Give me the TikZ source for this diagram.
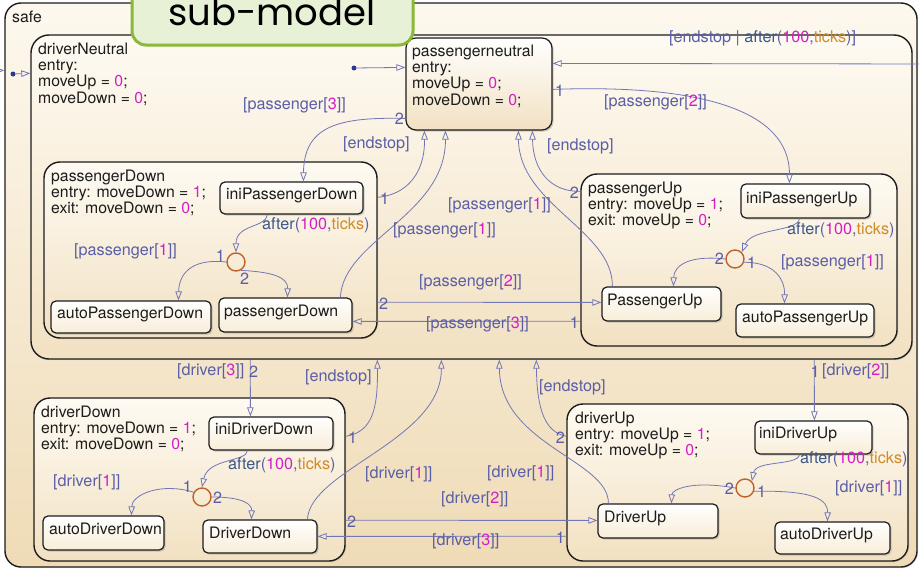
\documentclass[tikz,border=0pt]{standalone}
\usepackage{fontspec}
\setmainfont{TeX Gyre Heros}
\newfontfamily\bannerfont{Poppins}
\usetikzlibrary{arrows.meta,calc,fit,shadows}

\definecolor{trline}{HTML}{7276B6}
\definecolor{trtext}{HTML}{5A5EA6}
\definecolor{numcol}{HTML}{D41EC6}
\definecolor{tickcol}{HTML}{D08A28}
\definecolor{kwcol}{HTML}{3B5689}
\definecolor{junccol}{HTML}{C0622A}
\definecolor{dotcol}{HTML}{2E3A8E}
\definecolor{inkcol}{HTML}{1C1C1C}
\definecolor{safetop}{HTML}{FDF8EE}
\definecolor{safebot}{HTML}{EFDBB6}
\definecolor{suptop}{HTML}{FEFAF2}
\definecolor{supbot}{HTML}{F2E1C2}
\definecolor{leafbot}{HTML}{F8EDD8}
\definecolor{bannerfill}{HTML}{E7F1D6}
\definecolor{bannerdraw}{HTML}{8CB83A}

\newcommand{\magnum}[1]{\textcolor{numcol}{#1}}
\newcommand{\aftertick}{\textcolor{kwcol}{after}(\magnum{100},\textcolor{tickcol}{ticks})}
\newcommand{\statefont}{\fontsize{15.8}{16.3}\selectfont}
\newcommand{\labelfont}{\fontsize{16.2}{19}\selectfont}

\tikzset{
  superstate/.style={draw=inkcol, line width=1.4pt, rounded corners=16pt, inner sep=0pt,
    top color=suptop, bottom color=supbot,
    drop shadow={shadow xshift=1.2pt, shadow yshift=-1.2pt, opacity=0.2}},
  leafstate/.style={draw=inkcol, line width=1.2pt, rounded corners=5pt, inner sep=0pt,
    top color=white, bottom color=leafbot,
    drop shadow={shadow xshift=1.6pt, shadow yshift=-1.6pt, opacity=0.35}},
  statetext/.style={anchor=north west, align=left, inner sep=0pt, font=\statefont, text=inkcol},
  leaftext/.style={anchor=base west, inner sep=0pt, font=\statefont, text=inkcol},
  trans/.style={draw=trline, line width=0.8pt, -{Triangle[open, length=9pt, width=6.5pt, line width=0.8pt]}},
  trlabel/.style={anchor=base west, inner sep=0pt, text=trtext, font=\labelfont},
  prio/.style={inner sep=0pt, text=trtext, font=\labelfont},
  junction/.style={circle, draw=junccol, line width=1.4pt, minimum size=18pt, inner sep=0pt},
  defdot/.style={circle, fill=dotcol, minimum size=5pt, inner sep=0pt},
}

\begin{document}
\begin{tikzpicture}[x=1pt, y=-1pt]
\useasboundingbox (0,0) rectangle (919,570);
\clip (0,0) rectangle (919,570);

% ---------------- outer chart "safe" ----------------
\node[superstate, rounded corners=16pt, top color=safetop, bottom color=safebot,
      fit={(5,3) (917,567)}] (safe) {};
\node[anchor=west, inner sep=0pt, font=\statefont, text=inkcol] (safeT) at (12,17) {safe};
\coordinate (safein) at (-14,71);
\draw[trans] (safein) -- ($(safe.north west)+(0,68)$);

% ---------------- driverNeutral ----------------
\node[superstate, rounded corners=18pt, fit={(31,35) (912,359)}] (dn) {};
\node[statetext] (dnT) at (38,42.5) {driverNeutral\\entry:\\moveUp = \magnum{0};\\moveDown = \magnum{0};};
\node[defdot] (dnDot) at (13,74) {};
\draw[trans] (dnDot) -- ($(dn.north west)+(0,39)$);

% ---------------- passengerneutral ----------------
\node[leafstate, rounded corners=10pt, fit={(406,38) (552,130)}, bottom color=supbot] (pn) {};
\node[statetext] (pnT) at (412,44.5) {passengerneutral\\entry:\\moveUp = \magnum{0};\\moveDown = \magnum{0};};
\node[defdot] (pnDot) at (354,68) {};
\draw[trans] (pnDot) -- ($(pn.north west)+(0,30)$);
\coordinate (pnin) at (935,64);
\draw[trans] (pnin) -- ($(pn.north east)+(0,26)$);
\node[trlabel] (lbEndAfter) at (669,42) {[endstop | \aftertick]};

% ---------------- passengerDown ----------------
\node[superstate, fit={(44,162) (377,338)}] (pdS) {};
\node[statetext] (pdST) at (51,169.5) {passengerDown\\entry: moveDown = \magnum{1};\\exit: moveDown = \magnum{0};};
\node[leafstate, fit={(220,182) (363,214)}] (ipd) {};
\node[leaftext] (ipdT) at (226,199.5) {iniPassengerDown};
\node[leafstate, fit={(51,301) (211,333)}] (apd) {};
\node[leaftext] (apdT) at (57,318.5) {autoPassengerDown};
\node[leafstate, fit={(219,298) (352,332)}] (pd) {};
\node[leaftext] (pdT) at (224,316.5) {passengerDown};
\node[junction] (jpd) at (236,262) {};

% ---------------- passengerUp ----------------
\node[superstate, fit={(581,174) (897,346)}] (puS) {};
\node[statetext] (puST) at (588,181.5) {passengerUp\\entry: moveUp = \magnum{1};\\exit: moveUp = \magnum{0};};
\node[leafstate, fit={(741,184) (870,218)}] (ipu) {};
\node[leaftext] (ipuT) at (746,203.5) {iniPassengerUp};
\node[leafstate, fit={(602,287) (721,321)}] (pup) {};
\node[leaftext] (pupT) at (607,305.5) {PassengerUp};
\node[leafstate, fit={(736,304) (874,337)}] (apu) {};
\node[leaftext] (apuT) at (742,322.5) {autoPassengerUp};
\node[junction] (jpu) at (735,259) {};

% ---------------- driverDown ----------------
\node[superstate, fit={(34,398) (345,561)}] (ddS) {};
\node[statetext] (ddST) at (41,405.5) {driverDown\\entry: moveDown = \magnum{1};\\exit: moveDown = \magnum{0};};
\node[leafstate, fit={(209,417) (333,450)}] (idd) {};
\node[leaftext] (iddT) at (215,434.5) {iniDriverDown};
\node[leafstate, fit={(43,516) (164,550)}] (add) {};
\node[leaftext] (addT) at (49,534.5) {autoDriverDown};
\node[leafstate, fit={(203,520) (317,553)}] (ddr) {};
\node[leaftext] (ddrT) at (209,538.5) {DriverDown};
\node[junction] (jdd) at (202,497) {};

% ---------------- driverUp ----------------
\node[superstate, fit={(567,404) (908,561)}] (duS) {};
\node[statetext] (duST) at (575,411.5) {driverUp\\entry: moveUp = \magnum{1};\\exit: moveUp = \magnum{0};};
\node[leafstate, fit={(755,421) (872,454)}] (idu) {};
\node[leaftext] (iduT) at (759,438.5) {iniDriverUp};
\node[leafstate, fit={(598,504) (718,538)}] (dup) {};
\node[leaftext] (dupT) at (604,522.5) {DriverUp};
\node[leafstate, fit={(775,522) (890,554)}] (adu) {};
\node[leaftext] (aduT) at (780,539.5) {autoDriverUp};
\node[junction] (jdu) at (745,488) {};

% ======== transitions: passenger side ========
% neutral -> iniPassengerDown
\draw[trans] ($(pn.north west)+(0,81)$) .. controls (340,117) and (304,125) .. ($(ipd.north west)+(84,0)$);
\node[prio, anchor=base east] (p1) at (404,124) {2};
\node[trlabel] (l1) at (243,109) {[passenger[\magnum{3}]]};
% passengerDown -> neutral
\draw[trans] ($(pdS.north east)+(0,36)$) .. controls (405,195) and (425,175) .. ($(pn.south west)+(19,0)$);
\node[prio, anchor=base west] (p2) at (380,204) {1};
\node[trlabel] (l2) at (343,148) {[endstop]};
% passengerDown leaf -> neutral
\draw[trans] ($(pd.north west)+(122,0)$) .. controls (343,240) and (446,215) .. ($(pn.south west)+(40,0)$);
\node[trlabel] (l3) at (393,234) {[passenger[\magnum{1}]]};
% passengerDown -> PassengerUp
\draw[trans] ($(pdS.north east)+(0,141)$) -- ($(pup.north west)+(0,16)$);
\node[prio, anchor=base west] (p4) at (379,309) {2};
\node[trlabel] (l4) at (419,286) {[passenger[\magnum{2}]]};
% passengerUp -> passengerDown leaf
\draw[trans] ($(puS.north west)+(0,148)$) -- ($(pd.north east)+(0,24)$);
\node[prio, anchor=base east] (p5) at (579,328) {1};
\node[trlabel] (l5) at (426,328) {[passenger[\magnum{3}]]};
% neutral -> iniPassengerUp
\draw[trans] ($(pn.north east)+(0,52)$) .. controls (700,84) and (790,110) .. ($(ipu.north west)+(49,0)$);
\node[prio, anchor=base west] (p6) at (555,96) {1};
\node[trlabel] (l6) at (604,106) {[passenger[\magnum{2}]]};
% passengerUp -> neutral
\draw[trans] ($(puS.north west)+(0,18)$) .. controls (550,192) and (533,170) .. ($(pn.south west)+(127,0)$);
\node[prio, anchor=base east] (p7) at (579,198) {2};
\node[trlabel] (l7) at (547,150) {[endstop]};
% PassengerUp leaf -> neutral
\draw[trans] ($(pup.north west)+(11,0)$) .. controls (613,230) and (519,205) .. ($(pn.south west)+(113,0)$);
\node[trlabel] (l8) at (448,209) {[passenger[\magnum{1}]]};

% inside passengerDown
\draw[trans] ($(ipd.south west)+(48,0)$) .. controls (266,228) and (236,224) .. (jpd.north);
\node[trlabel] (l9) at (262,229) {\aftertick};
\draw[trans] (jpd.west) .. controls (190,258) and (179,275) .. ($(apd.north west)+(128,0)$);
\node[prio, anchor=base east] (p10) at (225,261) {1};
\node[trlabel] (l10) at (74,255) {[passenger[\magnum{1}]]};
\draw[trans] (jpd.-60) .. controls (275,272) and (288,278) .. ($(pd.north west)+(69,0)$);
\node[prio, anchor=base west] (p11) at (240,284) {2};

% inside passengerUp
\draw[trans] ($(ipu.south west)+(59,0)$) .. controls (798,232) and (752,228) .. (jpu.north east);
\node[trlabel] (l12) at (787,234) {\aftertick};
\draw[trans] (jpu.west) .. controls (690,255) and (674,265) .. ($(pup.north west)+(72,0)$);
\node[prio, anchor=base east] (p13) at (724,264) {2};
\draw[trans] (jpu.-20) .. controls (775,262) and (785,280) .. ($(apu.north west)+(49,0)$);
\node[prio, anchor=base west] (p14) at (747,268) {1};
\node[trlabel] (l14) at (781,266) {[passenger[\magnum{1}]]};

% ======== transitions: driver side ========
% neutral -> iniDriverDown
\draw[trans] ($(dn.south west)+(220,0)$) -- ($(idd.north west)+(42,0)$);
\node[trlabel] (l15) at (177,375) {[driver[\magnum{3}]]};
\node[prio, anchor=base west] (p15) at (249,377) {2};
% driverDown -> neutral
\draw[trans] ($(ddS.north east)+(0,39)$) .. controls (372,432) and (378,410) .. ($(dn.south west)+(347,0)$);
\node[prio, anchor=base west] (p16) at (348,443) {1};
\node[trlabel] (l16) at (305,381) {[endstop]};
% DriverDown leaf -> neutral
\draw[trans] ($(ddr.north west)+(105,0)$) .. controls (310,470) and (442,440) .. ($(dn.south west)+(411,0)$);
\node[trlabel] (l17) at (365,478) {[driver[\magnum{1}]]};
% driverDown -> DriverUp
\draw[trans] ($(ddS.north east)+(0,123)$) -- ($(dup.north west)+(0,17)$);
\node[prio, anchor=base west] (p21) at (347,527) {2};
\node[trlabel] (l21) at (441,503) {[driver[\magnum{2}]]};
% driverUp -> DriverDown leaf
\draw[trans] ($(duS.north west)+(0,133)$) -- ($(ddr.north east)+(0,17)$);
\node[prio, anchor=base east] (p22) at (565,543) {1};
\node[trlabel] (l22) at (432,545) {[driver[\magnum{3}]]};
% neutral -> iniDriverUp
\draw[trans] ($(dn.south west)+(784,0)$) -- ($(idu.north west)+(60,0)$);
\node[prio, anchor=base] (p23) at (815,377) {1};
\node[trlabel] (l23) at (822,375) {[driver[\magnum{2}]]};
% driverUp -> neutral
\draw[trans] ($(duS.north west)+(0,33)$) .. controls (545,432) and (537,410) .. ($(dn.south west)+(506,0)$);
\node[prio, anchor=base east] (p24) at (565,443) {2};
\node[trlabel] (l24) at (539,391) {[endstop]};
% DriverUp leaf -> neutral
\draw[trans] ($(dup.north west)+(11,0)$) .. controls (609,460) and (500,445) .. ($(dn.south west)+(469,0)$);
\node[trlabel] (l25) at (487,477) {[driver[\magnum{1}]]};

% inside driverDown
\draw[trans] ($(idd.south west)+(39,0)$) .. controls (247,462) and (208,458) .. (jdd.north);
\node[trlabel] (l18) at (228,469) {\aftertick};
\draw[trans] (jdd.150) .. controls (160,482) and (132,495) .. ($(add.north west)+(89,0)$);
\node[prio, anchor=base east] (p19) at (192,492) {1};
\node[trlabel] (l19) at (53,486) {[driver[\magnum{1}]]};
\draw[trans] (jdd.east) .. controls (245,497) and (252,505) .. ($(ddr.north west)+(49,0)$);
\node[prio, anchor=base west] (p20) at (213,503) {2};

% inside driverUp
\draw[trans] ($(idu.south west)+(45,0)$) .. controls (798,466) and (756,460) .. (jdu.north east);
\node[trlabel] (l26) at (800,463) {\aftertick};
\draw[trans] (jdu.west) .. controls (690,480) and (672,490) .. ($(dup.north west)+(74,0)$);
\node[prio, anchor=base east] (p27) at (734,494) {2};
\draw[trans] (jdu.-20) .. controls (815,490) and (828,500) .. ($(adu.north west)+(53,0)$);
\node[prio, anchor=base west] (p28) at (757,497) {1};
\node[trlabel] (l28) at (835,492) {[driver[\magnum{1}]]};

% ---------------- banner ----------------
\node[draw=bannerdraw, line width=3pt, fill=bannerfill, rounded corners=14pt, inner sep=0pt,
      fit={(132,-20) (413,45)}] (banner) {};
\node[anchor=base, inner sep=0pt, font=\bannerfont\fontsize{37}{40}\selectfont, text=black] (bannerT) at (272,25) {sub-model};
\end{tikzpicture}
\end{document}
